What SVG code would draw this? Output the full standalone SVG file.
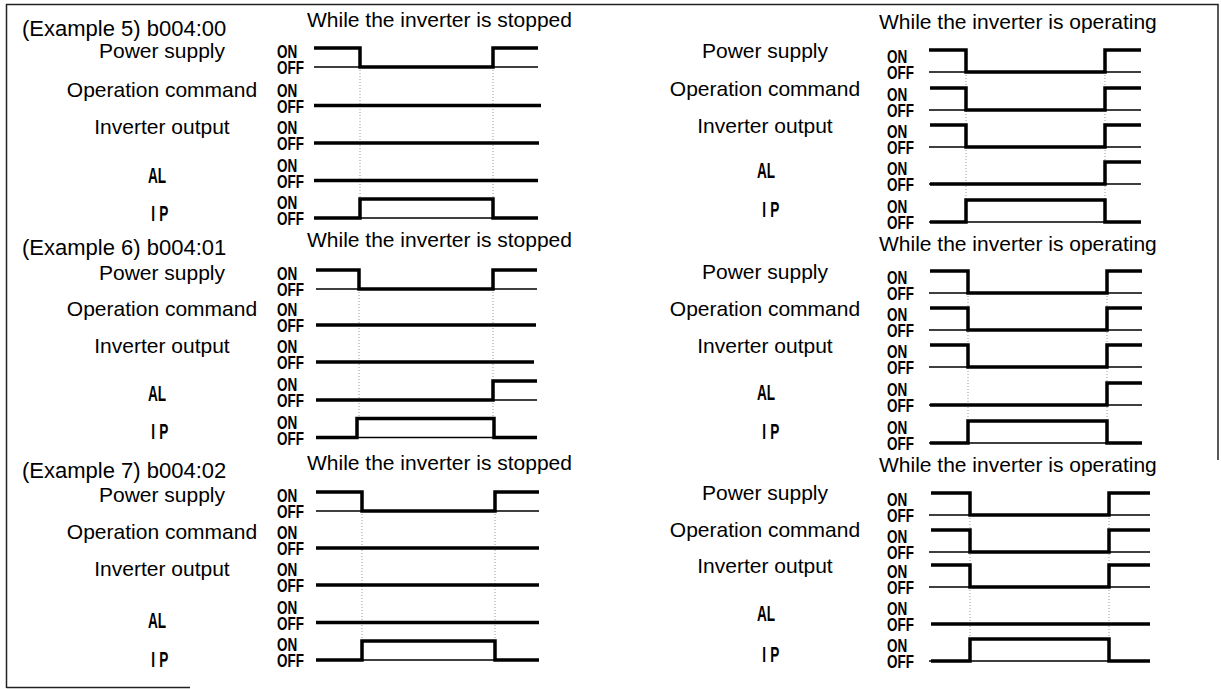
<svg xmlns="http://www.w3.org/2000/svg" width="1221" height="689" viewBox="0 0 1221 689">
<style>
.bg{fill:#fff}
.frame{fill:none;stroke:#222;stroke-width:1.5}
.lbl{font-family:"Liberation Sans",Arial,sans-serif;font-size:21px;fill:#000;text-anchor:middle}
.ttl{font-family:"Liberation Sans",Arial,sans-serif;font-size:22px;fill:#000}
.hd{font-family:"Liberation Sans",Arial,sans-serif;font-size:21px;fill:#000}
.cd{font-family:"Liberation Sans",Arial,sans-serif;font-weight:bold;font-size:18px;fill:#000}
.sym{font-family:"Liberation Sans",Arial,sans-serif;font-weight:bold;font-size:22px;fill:#000;text-anchor:middle}
.ip{letter-spacing:7px}
.sig{fill:none;stroke:#000;stroke-width:3.5;stroke-linejoin:miter}
.base{fill:none;stroke:#000;stroke-width:1.5}
.guide{fill:none;stroke:#9a9a9a;stroke-width:1;stroke-dasharray:1 2}
</style>
<rect class="bg" x="0" y="0" width="1221" height="689"/>
<g id="frame">
<path class="frame" d="M6.5 688 V4.5 H1218 V460"/>
<path class="frame" d="M6.5 687.5 H190"/>
</g>

<!-- ===== Section 1 ===== -->
<g id="example5">
<text class="ttl" x="22" y="36">(Example 5) b004:00</text>
<text class="hd" x="307" y="27">While the inverter is stopped</text>
<text class="hd" x="879" y="29">While the inverter is operating</text>
</g>
<g id="s1-left-labels">
<text class="lbl" x="162" y="58">Power supply</text>
<text class="lbl" x="162" y="96.5">Operation command</text>
<text class="lbl" x="162" y="134">Inverter output</text>
<text class="sym" transform="translate(157 183) scale(0.62 1)">AL</text>
<text class="sym ip" transform="translate(162 220.5) scale(0.62 1)">IP</text>
<text class="cd" transform="translate(277 58) scale(0.75 1)"><tspan x="0" y="0">ON</tspan><tspan x="0" y="16.5">OFF</tspan></text>
<text class="cd" transform="translate(277 96.5) scale(0.75 1)"><tspan x="0" y="0">ON</tspan><tspan x="0" y="16.5">OFF</tspan></text>
<text class="cd" transform="translate(277 134) scale(0.75 1)"><tspan x="0" y="0">ON</tspan><tspan x="0" y="16.5">OFF</tspan></text>
<text class="cd" transform="translate(277 171.5) scale(0.75 1)"><tspan x="0" y="0">ON</tspan><tspan x="0" y="16.5">OFF</tspan></text>
<text class="cd" transform="translate(277 209) scale(0.75 1)"><tspan x="0" y="0">ON</tspan><tspan x="0" y="16.5">OFF</tspan></text>
</g>
<g id="s1-left-signals">
<path class="guide" d="M360 67 V199 M493 67 V199"/>
<path class="base" d="M314 67 H538 M314 218 H538"/>
<path class="sig" d="M314 48 H360 V67 H493 V48 H538"/>
<path class="sig" d="M314 105.5 H541"/>
<path class="sig" d="M314 143 H539"/>
<path class="sig" d="M314 180.5 H538"/>
<path class="sig" d="M314 218 H360 V199 H493 V218 H538"/>
</g>
<g id="s1-right-labels">
<text class="lbl" x="765" y="58">Power supply</text>
<text class="lbl" x="765" y="96">Operation command</text>
<text class="lbl" x="765" y="133">Inverter output</text>
<text class="sym" transform="translate(766 178) scale(0.62 1)">AL</text>
<text class="sym ip" transform="translate(773 217) scale(0.62 1)">IP</text>
<text class="cd" transform="translate(887 63) scale(0.75 1)"><tspan x="0" y="0">ON</tspan><tspan x="0" y="16.5">OFF</tspan></text>
<text class="cd" transform="translate(887 101) scale(0.75 1)"><tspan x="0" y="0">ON</tspan><tspan x="0" y="16.5">OFF</tspan></text>
<text class="cd" transform="translate(887 138) scale(0.75 1)"><tspan x="0" y="0">ON</tspan><tspan x="0" y="16.5">OFF</tspan></text>
<text class="cd" transform="translate(887 175) scale(0.75 1)"><tspan x="0" y="0">ON</tspan><tspan x="0" y="16.5">OFF</tspan></text>
<text class="cd" transform="translate(887 213) scale(0.75 1)"><tspan x="0" y="0">ON</tspan><tspan x="0" y="16.5">OFF</tspan></text>
</g>
<g id="s1-right-signals">
<path class="guide" d="M966 72 V200 M1105 72 V200"/>
<path class="base" d="M929 72 H1141 M929 110 H1141 M929 147 H1141 M929 184 H1141 M929 222 H1141"/>
<path class="sig" d="M929 50 H966 V72 H1105 V50 H1141"/>
<path class="sig" d="M930 88 H966 V110 H1105 V88 H1141"/>
<path class="sig" d="M930 125 H966 V147 H1105 V125 H1141"/>
<path class="sig" d="M930 184 H1105 V162 H1141"/>
<path class="sig" d="M930 222 H966 V200 H1105 V222 H1141"/>
</g>

<!-- ===== Section 2 ===== -->
<g id="example6">
<text class="ttl" x="22" y="255">(Example 6) b004:01</text>
<text class="hd" x="307" y="247">While the inverter is stopped</text>
<text class="hd" x="879" y="251">While the inverter is operating</text>
</g>
<g id="s2-left-labels">
<text class="lbl" x="162" y="280">Power supply</text>
<text class="lbl" x="162" y="316">Operation command</text>
<text class="lbl" x="162" y="353">Inverter output</text>
<text class="sym" transform="translate(157 401) scale(0.62 1)">AL</text>
<text class="sym ip" transform="translate(162 439) scale(0.62 1)">IP</text>
<text class="cd" transform="translate(277 280) scale(0.75 1)"><tspan x="0" y="0">ON</tspan><tspan x="0" y="16.5">OFF</tspan></text>
<text class="cd" transform="translate(277 316) scale(0.75 1)"><tspan x="0" y="0">ON</tspan><tspan x="0" y="16.5">OFF</tspan></text>
<text class="cd" transform="translate(277 353) scale(0.75 1)"><tspan x="0" y="0">ON</tspan><tspan x="0" y="16.5">OFF</tspan></text>
<text class="cd" transform="translate(277 391) scale(0.75 1)"><tspan x="0" y="0">ON</tspan><tspan x="0" y="16.5">OFF</tspan></text>
<text class="cd" transform="translate(277 428.5) scale(0.75 1)"><tspan x="0" y="0">ON</tspan><tspan x="0" y="16.5">OFF</tspan></text>
</g>
<g id="s2-left-signals">
<path class="guide" d="M359 289 V418.5 M493 289 V418.5"/>
<path class="base" d="M316 289 H537 M316 400 H537 M316 437.5 H537"/>
<path class="sig" d="M316 270 H359 V289 H493 V270 H537"/>
<path class="sig" d="M316 325 H536"/>
<path class="sig" d="M316 362 H534"/>
<path class="sig" d="M316 400 H493 V381 H537"/>
<path class="sig" d="M316 437.5 H357 V418.5 H494 V437.5 H537"/>
</g>
<g id="s2-right-labels">
<text class="lbl" x="765" y="279">Power supply</text>
<text class="lbl" x="765" y="316">Operation command</text>
<text class="lbl" x="765" y="353">Inverter output</text>
<text class="sym" transform="translate(766 400) scale(0.62 1)">AL</text>
<text class="sym ip" transform="translate(773 439) scale(0.62 1)">IP</text>
<text class="cd" transform="translate(887 284) scale(0.75 1)"><tspan x="0" y="0">ON</tspan><tspan x="0" y="16.5">OFF</tspan></text>
<text class="cd" transform="translate(887 321) scale(0.75 1)"><tspan x="0" y="0">ON</tspan><tspan x="0" y="16.5">OFF</tspan></text>
<text class="cd" transform="translate(887 358) scale(0.75 1)"><tspan x="0" y="0">ON</tspan><tspan x="0" y="16.5">OFF</tspan></text>
<text class="cd" transform="translate(887 396) scale(0.75 1)"><tspan x="0" y="0">ON</tspan><tspan x="0" y="16.5">OFF</tspan></text>
<text class="cd" transform="translate(887 434) scale(0.75 1)"><tspan x="0" y="0">ON</tspan><tspan x="0" y="16.5">OFF</tspan></text>
</g>
<g id="s2-right-signals">
<path class="guide" d="M968 293 V421 M1107 293 V421"/>
<path class="base" d="M929 293 H1142 M929 330 H1142 M929 367 H1142 M929 405 H1142 M929 443 H1142"/>
<path class="sig" d="M930 271 H968 V293 H1107 V271 H1142"/>
<path class="sig" d="M930 308 H968 V330 H1107 V308 H1142"/>
<path class="sig" d="M930 345 H968 V367 H1107 V345 H1142"/>
<path class="sig" d="M930 405 H1107 V383 H1142"/>
<path class="sig" d="M930 443 H968 V421 H1107 V443 H1142"/>
</g>

<!-- ===== Section 3 ===== -->
<g id="example7">
<text class="ttl" x="22" y="478">(Example 7) b004:02</text>
<text class="hd" x="307" y="470">While the inverter is stopped</text>
<text class="hd" x="879" y="472">While the inverter is operating</text>
</g>
<g id="s3-left-labels">
<text class="lbl" x="162" y="502">Power supply</text>
<text class="lbl" x="162" y="539">Operation command</text>
<text class="lbl" x="162" y="576">Inverter output</text>
<text class="sym" transform="translate(157 628) scale(0.62 1)">AL</text>
<text class="sym ip" transform="translate(162 666.5) scale(0.62 1)">IP</text>
<text class="cd" transform="translate(277 502) scale(0.75 1)"><tspan x="0" y="0">ON</tspan><tspan x="0" y="16.5">OFF</tspan></text>
<text class="cd" transform="translate(277 539) scale(0.75 1)"><tspan x="0" y="0">ON</tspan><tspan x="0" y="16.5">OFF</tspan></text>
<text class="cd" transform="translate(277 576) scale(0.75 1)"><tspan x="0" y="0">ON</tspan><tspan x="0" y="16.5">OFF</tspan></text>
<text class="cd" transform="translate(277 613.5) scale(0.75 1)"><tspan x="0" y="0">ON</tspan><tspan x="0" y="16.5">OFF</tspan></text>
<text class="cd" transform="translate(277 651) scale(0.75 1)"><tspan x="0" y="0">ON</tspan><tspan x="0" y="16.5">OFF</tspan></text>
</g>
<g id="s3-left-signals">
<path class="guide" d="M362 511 V641 M495 511 V641"/>
<path class="base" d="M316 511 H539 M316 660 H539"/>
<path class="sig" d="M316 492 H362 V511 H495 V492 H539"/>
<path class="sig" d="M316 548 H539"/>
<path class="sig" d="M316 585 H539"/>
<path class="sig" d="M316 622.5 H539"/>
<path class="sig" d="M316 660 H362 V641 H495 V660 H539"/>
</g>
<g id="s3-right-labels">
<text class="lbl" x="765" y="500">Power supply</text>
<text class="lbl" x="765" y="537">Operation command</text>
<text class="lbl" x="765" y="573">Inverter output</text>
<text class="sym" transform="translate(766 621) scale(0.62 1)">AL</text>
<text class="sym ip" transform="translate(773 662) scale(0.62 1)">IP</text>
<text class="cd" transform="translate(887 506) scale(0.75 1)"><tspan x="0" y="0">ON</tspan><tspan x="0" y="16.5">OFF</tspan></text>
<text class="cd" transform="translate(887 543) scale(0.75 1)"><tspan x="0" y="0">ON</tspan><tspan x="0" y="16.5">OFF</tspan></text>
<text class="cd" transform="translate(887 578) scale(0.75 1)"><tspan x="0" y="0">ON</tspan><tspan x="0" y="16.5">OFF</tspan></text>
<text class="cd" transform="translate(887 615) scale(0.75 1)"><tspan x="0" y="0">ON</tspan><tspan x="0" y="16.5">OFF</tspan></text>
<text class="cd" transform="translate(887 652) scale(0.75 1)"><tspan x="0" y="0">ON</tspan><tspan x="0" y="16.5">OFF</tspan></text>
</g>
<g id="s3-right-signals">
<path class="guide" d="M970 515 V639 M1109 515 V639"/>
<path class="base" d="M929 515 H1150 M929 552 H1150 M929 587 H1150 M929 661 H1150"/>
<path class="sig" d="M931 493 H970 V515 H1109 V493 H1150"/>
<path class="sig" d="M931 530 H970 V552 H1109 V530 H1150"/>
<path class="sig" d="M931 565 H970 V587 H1109 V565 H1150"/>
<path class="sig" d="M931 624 H1150"/>
<path class="sig" d="M931 661 H970 V639 H1109 V661 H1150"/>
</g>
</svg>
